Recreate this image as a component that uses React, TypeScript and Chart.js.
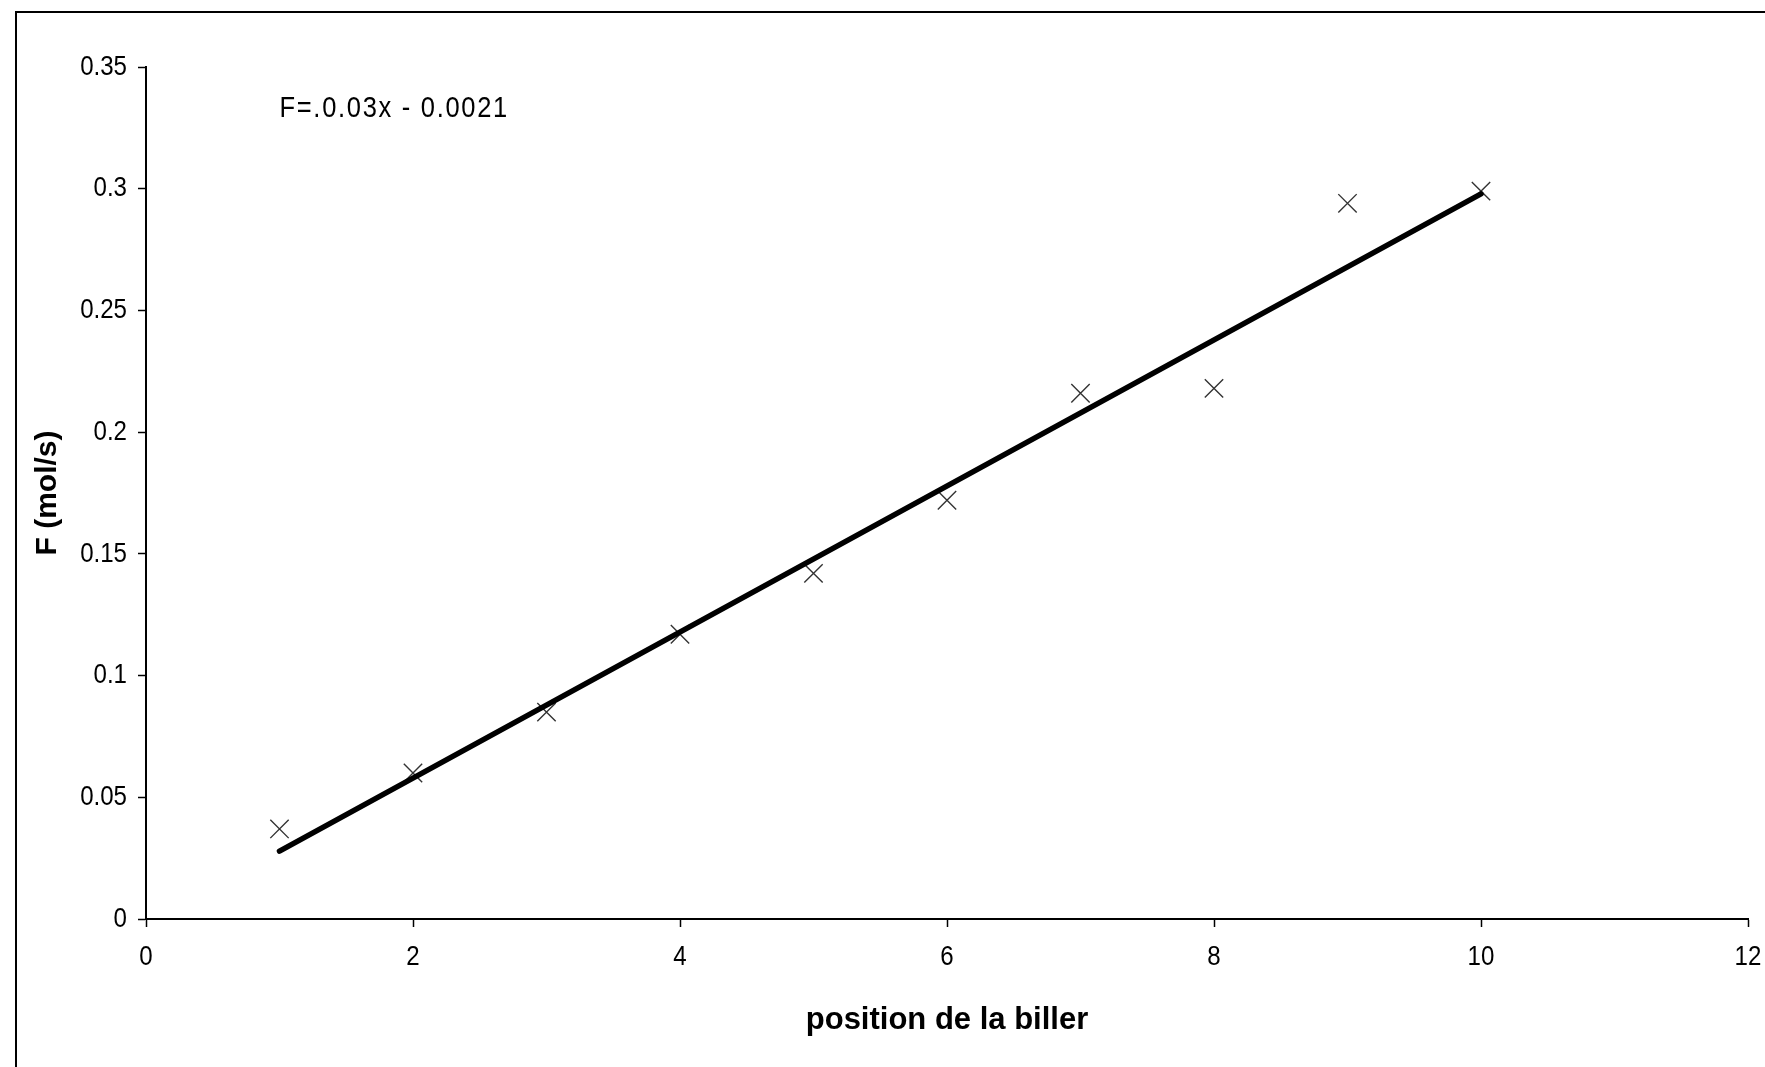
import React, { useEffect, useRef } from "react";
import { Chart, registerables } from "chart.js";

Chart.register(...registerables);

// Ball positions and measured flow rate F (mol/s)
const positions = [1, 2, 3, 4, 5, 6, 7, 8, 9, 10];
const flowRates = [0.037, 0.06, 0.085, 0.117, 0.142, 0.172, 0.216, 0.218, 0.294, 0.299];

// Linear fit shown on the chart: F = 0.03x - 0.0021
const fitSlope = 0.03;
const fitIntercept = -0.0021;
const fitRange = [1, 10];
const fitLabel = "F=.0.03x - 0.0021";

// Axis ticks
const xTicks = [0, 2, 4, 6, 8, 10, 12];
const xTickLabels = ["0", "2", "4", "6", "8", "10", "12"];
const yTicks = [0, 0.05, 0.1, 0.15, 0.2, 0.25, 0.3, 0.35];
const yTickLabels = ["0", "0.05", "0.1", "0.15", "0.2", "0.25", "0.3", "0.35"];

const xTitle = "position de la biller";
const yTitle = "F (mol/s)";

const SANS = '"Liberation Sans", Arial, sans-serif';

const W = 1765;
const H = 1067;

// Draws text squeezed horizontally, for the narrow label face
function drawCondensed(
  ctx: CanvasRenderingContext2D,
  text: string,
  x: number,
  y: number,
  align: "left" | "right" | "center",
  squeeze: number,
  spacing = 0
) {
  ctx.save();
  (ctx as any).letterSpacing = `${spacing}px`;
  const w = ctx.measureText(text).width * squeeze;
  let left = x;
  if (align === "right") left = x - w;
  else if (align === "center") left = x - w / 2;
  ctx.translate(left, y);
  ctx.scale(squeeze, 1);
  ctx.textAlign = "left";
  ctx.fillText(text, 0, 0);
  ctx.restore();
}

// Page background and the outer frame of the chart object
const framePlugin = {
  id: "frame",
  beforeDraw(chart: any) {
    const ctx = chart.ctx;
    ctx.save();
    ctx.fillStyle = "#ffffff";
    ctx.fillRect(0, 0, chart.width, chart.height);
    ctx.strokeStyle = "#000000";
    ctx.lineWidth = 2;
    ctx.strokeRect(16, 12, chart.width + 20, chart.height + 20);
    ctx.restore();
  },
};

// Tick labels and the fit equation, in a narrow face
const labelsPlugin = {
  id: "narrowLabels",
  afterDraw(chart: any) {
    const ctx: CanvasRenderingContext2D = chart.ctx;
    const xs = chart.scales.x;
    const ys = chart.scales.y;
    ctx.save();
    ctx.fillStyle = "#000000";
    ctx.textBaseline = "middle";
    ctx.font = `28px ${SANS}`;
    yTicks.forEach((v, i) => {
      drawCondensed(ctx, yTickLabels[i], xs.left - 19, ys.getPixelForValue(v), "right", 0.86);
    });
    xTicks.forEach((v, i) => {
      drawCondensed(ctx, xTickLabels[i], xs.getPixelForValue(v), ys.bottom + 38, "center", 0.86);
    });
    ctx.font = `30px ${SANS}`;
    drawCondensed(ctx, fitLabel, xs.getPixelForValue(1), ys.getPixelForValue(0.333), "left", 0.85, 2);
    ctx.restore();
  },
};

export default function App() {
  const canvasRef = useRef<HTMLCanvasElement | null>(null);

  useEffect(() => {
    const canvas = canvasRef.current;
    if (!canvas) return;

    const points = positions.map((x, i) => ({ x, y: flowRates[i] }));
    const fitPoints = fitRange.map((x) => ({ x, y: fitSlope * x + fitIntercept }));

    const chart = new Chart(canvas, {
      type: "scatter",
      data: {
        datasets: [
          {
            type: "line",
            label: "fit",
            data: fitPoints,
            borderColor: "#000000",
            borderWidth: 5.5,
            borderCapStyle: "round",
            pointRadius: 0,
            fill: false,
          },
          {
            label: "F",
            data: points,
            pointStyle: "crossRot",
            pointRadius: 13,
            pointBorderWidth: 1.4,
            borderColor: "#333333",
            backgroundColor: "#333333",
            showLine: false,
          },
        ],
      },
      options: {
        responsive: false,
        animation: false,
        devicePixelRatio: 1,
        layout: { padding: { top: 67, right: 17, left: 0, bottom: 0 } },
        plugins: {
          legend: { display: false },
          tooltip: { enabled: false },
        },
        scales: {
          x: {
            type: "linear",
            min: 0,
            max: 12,
            afterBuildTicks: (scale: any) => {
              scale.ticks = xTicks.map((v) => ({ value: v }));
            },
            afterFit: (scale: any) => {
              scale.height = H - 919;
            },
            grid: {
              drawOnChartArea: false,
              drawTicks: true,
              tickLength: 8,
              tickColor: "#000000",
              tickWidth: 1.5,
            },
            border: { display: true, color: "#000000", width: 2 },
            ticks: { display: false },
            title: {
              display: true,
              text: xTitle,
              color: "#000000",
              font: { family: SANS, size: 31, weight: "bold" },
              padding: { top: 0, bottom: 28 },
            },
          },
          y: {
            type: "linear",
            min: 0,
            max: 0.35,
            afterBuildTicks: (scale: any) => {
              scale.ticks = yTicks.map((v) => ({ value: v }));
            },
            afterFit: (scale: any) => {
              scale.width = 146;
            },
            grid: {
              drawOnChartArea: false,
              drawTicks: true,
              tickLength: 8,
              tickColor: "#000000",
              tickWidth: 1.5,
            },
            border: { display: true, color: "#000000", width: 2 },
            ticks: { display: false },
            title: {
              display: true,
              text: yTitle,
              color: "#000000",
              font: { family: SANS, size: 30, weight: "bold" },
              padding: { top: 30, bottom: 0 },
            },
          },
        },
      },
      plugins: [framePlugin, labelsPlugin],
    } as any);

    return () => chart.destroy();
  }, []);

  return (
    <div style={{ position: "fixed", left: 0, top: 0, width: W, height: H, background: "#fff" }}>
      <canvas ref={canvasRef} width={W} height={H} style={{ width: W, height: H, display: "block" }} />
    </div>
  );
}
